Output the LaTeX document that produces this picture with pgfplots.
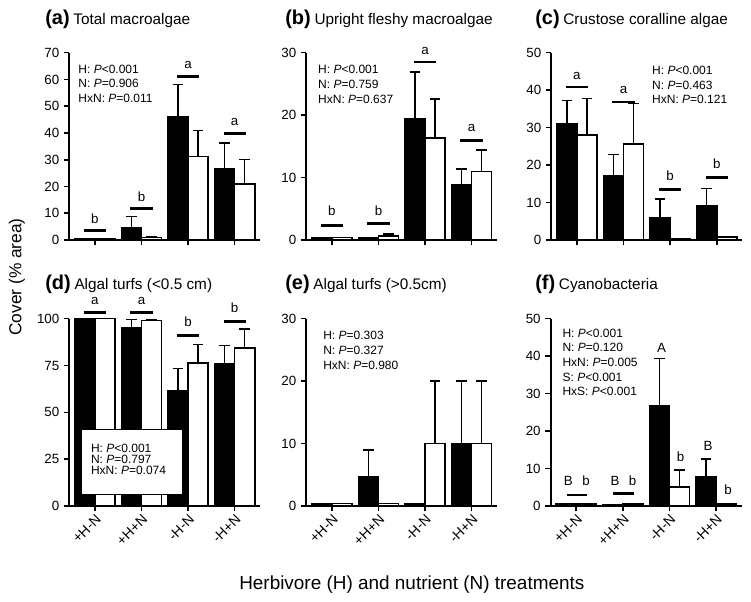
\documentclass[border=0pt]{standalone}
\usepackage{fontspec}
\setmainfont{Liberation Sans}
\usepackage{pgfplots}
\pgfplotsset{compat=1.18}

% sizes (1 px of the reference = 0.75pt)
\newcommand{\ptext}{\fontsize{9}{11}\selectfont}
\newcommand{\siglab}{\fontsize{10}{12}\selectfont}
\newcommand{\ttl}[2]{{\fontsize{15}{16}\selectfont\bfseries (#1)}\ {\fontsize{11.5}{13}\selectfont #2}}

% significance line + letter
\newcommand{\sig}[5]{%
  \draw[line width=2pt] (axis cs:#1,#3) -- (axis cs:#2,#3);
  \node[anchor=base,inner sep=0pt,font=\siglab] at (axis cs:{(#1+#2)/2},#4) {#5};}

\pgfplotsset{
  panel/.style={
    scale only axis, width=143.25pt, height=140.5pt,
    anchor=south west,
    xmin=-0.55, xmax=3.55, ymin=0,
    axis x line*=bottom, axis y line*=left,
    axis line style={line width=1.5pt},
    xtick={0,1,2,3},
    tick align=outside, major tick length=4pt,
    tick style={line width=1.2pt, black},
    ticklabel style={font=\fontsize{10}{12}\selectfont},
    /pgf/number format/assume math mode=true,
    clip=false,
  },
  toprow/.style={panel, xticklabels={{},{},{},{}}},
  botrow/.style={panel, xticklabels={+H-N,+H+N,-H-N,-H+N},
    x tick label style={rotate=45, anchor=north east, inner sep=1pt,
      font=\fontsize{10.5}{12}\selectfont}},
  errs/.style={error bars/.cd, y dir=plus, y explicit,
    error bar style={line width=1.1pt, black},
    error mark options={rotate=90, line width=1.1pt, mark size=4pt, black}},
  blk/.style={ybar, bar width=0.43, bar shift=0, fill=black, draw=black,
    line width=1.2pt, errs},
  wht/.style={ybar, bar width=0.43, bar shift=0, fill=white, draw=black,
    line width=1.2pt, errs},
}

\begin{document}
\begin{tikzpicture}
\path[use as bounding box] (0,0) rectangle (563.25pt,450.75pt);

% (a)
\begin{axis}[toprow, at={(51.98pt,270.75pt)}, ymax=70, ytick={0,10,...,70}]
\addplot[blk] coordinates {(-0.215,0.5) +- (0,0) (0.785,4.6) +- (0,4.15) (1.785,46) +- (0,12.1) (2.785,26.5) +- (0,9.75)};
\addplot[wht] coordinates {(0.215,0.5) +- (0,0) (1.215,1.0) +- (0,0.2) (2.215,31.25) +- (0,9.65) (3.215,21) +- (0,9)};
\sig{-0.24}{0.24}{3.5}{6.0}{b}
\sig{0.76}{1.24}{11.75}{14.5}{b}
\sig{1.76}{2.24}{61}{64.1}{a}
\sig{2.76}{3.24}{39.75}{42.9}{a}
\node[anchor=west,align=left,inner sep=0pt,font=\ptext] at (axis cs:-0.36,58.4)
  {H: \textit{P}<0.001\\N: \textit{P}=0.906\\HxN: \textit{P}=0.011};
\end{axis}

% (b)
\begin{axis}[toprow, at={(229.7pt,270.75pt)}, ymax=30, ytick={0,10,20,30}]
\addplot[blk] coordinates {(-0.215,0.4) +- (0,0) (0.785,0.4) +- (0,0) (1.785,19.4) +- (0,7.5) (2.785,8.8) +- (0,2.6)};
\addplot[wht] coordinates {(0.215,0.4) +- (0,0) (1.215,0.6) +- (0,0.35) (2.215,16.3) +- (0,6.3) (3.215,11.0) +- (0,3.4)};
\sig{-0.24}{0.24}{2.35}{3.86}{b}
\sig{0.76}{1.24}{2.6}{3.86}{b}
\sig{1.76}{2.24}{28.5}{29.7}{a}
\sig{2.76}{3.24}{15.9}{17.4}{a}
\node[anchor=west,align=left,inner sep=0pt,font=\ptext] at (axis cs:-0.30,24.9)
  {H: \textit{P}<0.001\\N: \textit{P}=0.759\\HxN: \textit{P}=0.637};
\end{axis}

% (c)
\begin{axis}[toprow, at={(413.5pt,270.75pt)}, ymax=50, ytick={0,10,...,50}]
\addplot[blk] coordinates {(-0.215,31.0) +- (0,6.2) (0.785,17.2) +- (0,5.6) (1.785,6.0) +- (0,4.9) (2.785,9.2) +- (0,4.6)};
\addplot[wht] coordinates {(0.215,28.1) +- (0,9.6) (1.215,25.6) +- (0,10.9) (2.215,0.4) +- (0,0) (3.215,0.8) +- (0,0)};
\sig{-0.24}{0.24}{40.8}{42.9}{a}
\sig{0.76}{1.24}{36.8}{39.1}{a}
\sig{1.76}{2.24}{13.4}{15.8}{b}
\sig{2.76}{3.24}{16.7}{19.0}{b}
\node[anchor=west,align=left,inner sep=0pt,font=\ptext] at (axis cs:1.61,41.4)
  {H: \textit{P}<0.001\\N: \textit{P}=0.463\\HxN: \textit{P}=0.121};
\end{axis}

% (d)
\begin{axis}[botrow, at={(51.98pt,71.25pt)}, ymax=100, ytick={0,25,50,75,100}]
\addplot[blk] coordinates {(-0.215,100) +- (0,0) (0.785,95.2) +- (0,4.4) (1.785,61.5) +- (0,11.9) (2.785,75.7) +- (0,10.1)};
\addplot[wht] coordinates {(0.215,100) +- (0,0) (1.215,99.1) +- (0,0.4) (2.215,76.4) +- (0,9.9) (3.215,84.5) +- (0,10)};
\sig{-0.24}{0.24}{103.2}{107.6}{a}
\sig{0.76}{1.24}{103.2}{107.6}{a}
\sig{1.76}{2.24}{91.1}{95.9}{b}
\sig{2.76}{3.24}{98.6}{103.2}{b}
\draw[line width=0.6pt, fill=white] (axis cs:-0.28,6.4) rectangle (axis cs:1.88,41.0);
\node[anchor=west,align=left,inner sep=0pt,font=\fontsize{9}{8.2}\selectfont] at (axis cs:-0.09,25.0)
  {H: \textit{P}<0.001\\N: \textit{P}=0.797\\HxN: \textit{P}=0.074};
\end{axis}

% (e)
\begin{axis}[botrow, at={(229.7pt,71.25pt)}, ymax=30, ytick={0,10,20,30}]
\addplot[blk] coordinates {(-0.215,0.4) +- (0,0) (0.785,4.6) +- (0,4.35) (1.785,0.4) +- (0,0) (2.785,10) +- (0,10)};
\addplot[wht] coordinates {(0.215,0.4) +- (0,0) (1.215,0.4) +- (0,0) (2.215,10) +- (0,10) (3.215,10) +- (0,10)};
\node[anchor=west,align=left,inner sep=0pt,font=\ptext] at (axis cs:-0.19,24.9)
  {H: \textit{P}=0.303\\N: \textit{P}=0.327\\HxN: \textit{P}=0.980};
\end{axis}

% (f)
\begin{axis}[botrow, at={(413pt,71.25pt)}, ymax=50, ytick={0,10,...,50}]
\addplot[blk] coordinates {(-0.215,0.5) +- (0,0) (0.785,0.3) +- (0,0) (1.785,26.8) +- (0,12.5) (2.785,7.8) +- (0,4.7)};
\addplot[wht] coordinates {(0.215,0.5) +- (0,0) (1.215,0.5) +- (0,0) (2.215,5.0) +- (0,4.6) (3.215,0.5) +- (0,0)};
\draw[line width=2pt] (axis cs:-0.21,2.9) -- (axis cs:0.24,2.9);
\draw[line width=2pt] (axis cs:0.79,3.4) -- (axis cs:1.24,3.4);
\node[anchor=base,inner sep=0pt,font=\siglab] at (axis cs:-0.17,5.6) {B};
\node[anchor=base,inner sep=0pt,font=\siglab] at (axis cs:0.21,5.6) {b};
\node[anchor=base,inner sep=0pt,font=\siglab] at (axis cs:0.83,5.6) {B};
\node[anchor=base,inner sep=0pt,font=\siglab] at (axis cs:1.21,5.6) {b};
\node[anchor=base,inner sep=0pt,font=\siglab] at (axis cs:1.83,41.1) {A};
\node[anchor=base,inner sep=0pt,font=\siglab] at (axis cs:2.24,11.8) {b};
\node[anchor=base,inner sep=0pt,font=\siglab] at (axis cs:2.83,14.9) {B};
\node[anchor=base,inner sep=0pt,font=\siglab] at (axis cs:3.26,3.1) {b};
\node[anchor=west,align=left,inner sep=0pt,font=\ptext] at (axis cs:-0.30,38.3)
  {H: \textit{P}<0.001\\N: \textit{P}=0.120\\HxN: \textit{P}=0.005\\S: \textit{P}<0.001\\HxS: \textit{P}<0.001};
\end{axis}

% titles and shared labels
\node[anchor=base west,inner sep=0pt] at (33.75pt,432.4pt) {\ttl{a}{Total macroalgae}};
\node[anchor=base west,inner sep=0pt] at (213.75pt,432.4pt) {\ttl{b}{Upright fleshy macroalgae}};
\node[anchor=base west,inner sep=0pt] at (401.25pt,432.4pt) {\ttl{c}{Crustose coralline algae}};
\node[anchor=base west,inner sep=0pt] at (33.75pt,233.6pt) {\ttl{d}{Algal turfs (<0.5 cm)}};
\node[anchor=base west,inner sep=0pt] at (213.75pt,233.6pt) {\ttl{e}{Algal turfs (>0.5cm)}};
\node[anchor=base west,inner sep=0pt] at (401.25pt,233.6pt) {\ttl{f}{Cyanobacteria}};
\node[rotate=90,inner sep=0pt] at (12.75pt,243pt) {\fontsize{13}{15}\selectfont Cover (\% area)};
\node[anchor=base west,inner sep=0pt] at (179.25pt,9pt) {\fontsize{14.2}{16}\selectfont Herbivore (H) and nutrient (N) treatments};
\end{tikzpicture}
\end{document}
